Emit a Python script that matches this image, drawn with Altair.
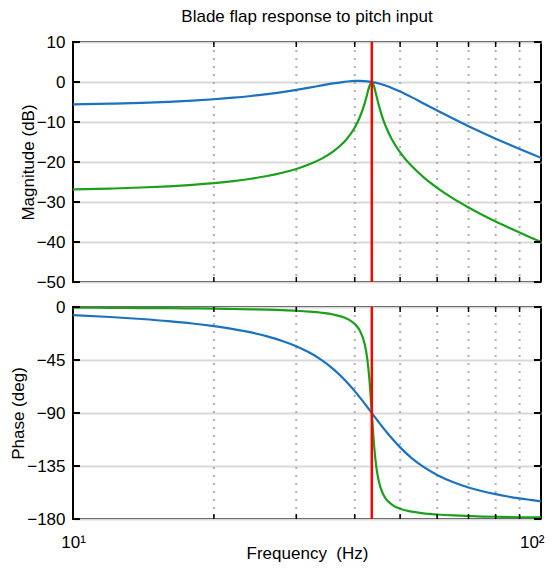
import altair as alt
import pandas as pd

# ---- data ----
freq = [10, 12, 14, 16, 18, 20, 22, 24, 26, 28,
        30, 32, 34, 36, 38, 39, 40, 41, 42, 42.5,
        43, 43.5, 44, 44.5, 45, 46, 47, 48, 50, 53,
        56, 60, 65, 70, 75, 80, 85, 90, 95, 100]

blue_mag = [-5.61, -5.43, -5.21, -4.95, -4.65, -4.31, -3.93, -3.50, -3.03, -2.52,
            -1.97, -1.41, -0.85, -0.34, 0.05, 0.19, 0.26, 0.28, 0.22, 0.17,
            0.09, 0.0, -0.11, -0.23, -0.37, -0.70, -1.07, -1.48, -2.39, -3.84,
            -5.30, -7.13, -9.20, -11.04, -12.68, -14.16, -15.51, -16.75, -17.90, -18.96]

green_mag = [-26.86, -26.64, -26.38, -26.07, -25.70, -25.27, -24.77, -24.18, -23.50, -22.69,
             -21.74, -20.58, -19.16, -17.35, -14.93, -13.35, -11.38, -8.82, -5.34, -3.16,
             -1.00, 0.0, -1.18, -3.46, -5.72, -9.38, -12.13, -14.29, -17.57, -21.09,
             -23.72, -26.46, -29.16, -31.36, -33.24, -34.88, -36.33, -37.65, -38.86, -39.97]

blue_phase = [-6.9, -8.5, -10.2, -12.0, -14.0, -16.3, -18.8, -21.6, -24.9, -28.8,
              -33.3, -38.7, -45.1, -52.7, -61.5, -66.4, -71.4, -76.7, -82.0, -84.7,
              -87.4, -90.0, -92.6, -95.2, -97.7, -102.6, -107.2, -111.5, -119.2, -128.5,
              -135.6, -142.6, -148.8, -153.2, -156.4, -158.9, -160.9, -162.5, -163.8, -165.0]

green_phase = [-0.6, -0.7, -0.9, -1.0, -1.2, -1.4, -1.7, -2.0, -2.3, -2.7,
               -3.2, -3.9, -4.9, -6.4, -9.0, -11.1, -14.4, -20.0, -31.5, -42.8,
               -61.8, -90.0, -118.0, -136.6, -147.6, -159.0, -164.5, -167.7, -171.3, -173.8,
               -175.2, -176.2, -177.0, -177.5, -177.9, -178.1, -178.3, -178.5, -178.6, -178.7]

series_names = ["blue", "green"]
resonance = [43.5]
minor_freqs = [20, 30, 40, 50, 60, 70, 80, 90]
mag_ticks = [10, 0, -10, -20, -30, -40, -50]
phase_ticks = [0, -45, -90, -135, -180]
x_ticks = [10, 100]

# ---- style ----
FONT = "Liberation Sans"
FS = 17
BLUE = "#1b72c0"
GREEN = "#1aa01a"
RED = "#ff0000"
W = 468
H1 = 240
H2 = 212

n = len(freq)
df = pd.DataFrame({
    "freq": freq * 2,
    "mag": blue_mag + green_mag,
    "phase": blue_phase + green_phase,
    "series": [series_names[0]] * n + [series_names[1]] * n,
})
minor_df = pd.DataFrame({"freq": minor_freqs})
res_df = pd.DataFrame({"freq": resonance})

xscale = alt.Scale(type="log", domain=[10, 100], nice=False)


def panel(field, domain, ticks, height, ytitle, title_pad, show_x):
    yscale = alt.Scale(domain=domain, nice=False, zero=False)
    if show_x:
        xaxis = alt.Axis(values=x_ticks, labelExpr="datum.value == 10 ? '10¹' : '10²'",
                         grid=False, ticks=False, domain=False, labelFlush=False,
                         labelAlign={"condition": {"test": "datum.value == 100", "value": "right"},
                                     "value": "center"},
                         labelOffset={"condition": {"test": "datum.value == 100", "value": 3},
                                      "value": 0},
                         labelFont=FONT, labelFontSize=FS, labelColor="black",
                         labelPadding=15, title="Frequency\u00a0 (Hz)", titleFont=FONT,
                         titleFontSize=FS, titleFontWeight="normal", titleColor="black",
                         titlePadding=-5)
    else:
        xaxis = None
    yaxis = alt.Axis(values=ticks, grid=True, gridColor="#d9d9d9", gridWidth=2,
                     ticks=False, domain=False, labelFont=FONT, labelFontSize=FS,
                     labelColor="black", labelPadding=8, title=ytitle, titleFont=FONT,
                     titleFontSize=FS, titleFontWeight="normal", titleColor="black",
                     titlePadding=title_pad)
    tick_df = pd.DataFrame({field: ticks})

    X = alt.X("freq:Q", scale=xscale, axis=xaxis)
    Y = alt.Y(f"{field}:Q", scale=yscale, axis=yaxis)

    dotted = alt.Chart(minor_df).mark_rule(color="#b0b0b0", strokeWidth=2,
                                           strokeDash=[2, 6]).encode(x=X)
    lines = alt.Chart(df).mark_line(strokeWidth=2.2, interpolate="monotone", clip=True).encode(
        x=X, y=Y,
        color=alt.Color("series:N", scale=alt.Scale(domain=series_names, range=[BLUE, GREEN]),
                        legend=None),
    )
    red = alt.Chart(res_df).mark_rule(color=RED, strokeWidth=2.5).encode(x=X)
    top_t = alt.Chart(minor_df).mark_rule(color="black", strokeWidth=1.5).encode(
        x=X, y=alt.value(0), y2=alt.value(5))
    bot_t = alt.Chart(minor_df).mark_rule(color="black", strokeWidth=1.5).encode(
        x=X, y=alt.value(height - 5), y2=alt.value(height))
    left_t = alt.Chart(tick_df).mark_rule(color="black", strokeWidth=2).encode(
        y=Y, x=alt.value(0), x2=alt.value(7))
    right_t = alt.Chart(tick_df).mark_rule(color="black", strokeWidth=2).encode(
        y=Y, x=alt.value(W - 7), x2=alt.value(W))
    return alt.layer(dotted, lines, red, top_t, bot_t, left_t, right_t).properties(
        width=W, height=height)


top = panel("mag", [-50, 10], mag_ticks, H1, "Magnitude (dB)", -1, False)
bottom = panel("phase", [-180, 0], phase_ticks, H2, "Phase (deg)", -1, True)

chart = alt.vconcat(top, bottom, spacing=25, bounds="flush").properties(
    title=alt.TitleParams("Blade flap response to pitch input", font=FONT, fontSize=FS,
                          fontWeight="normal", color="black", anchor="middle",
                          frame="group", offset=6),
    padding={"left": 0, "top": 0, "right": 0, "bottom": 0},
    background="white",
).configure_view(stroke="black", strokeWidth=2, fill="white")

chart.save("out.html", embed_options={"renderer": "svg", "actions": False})
